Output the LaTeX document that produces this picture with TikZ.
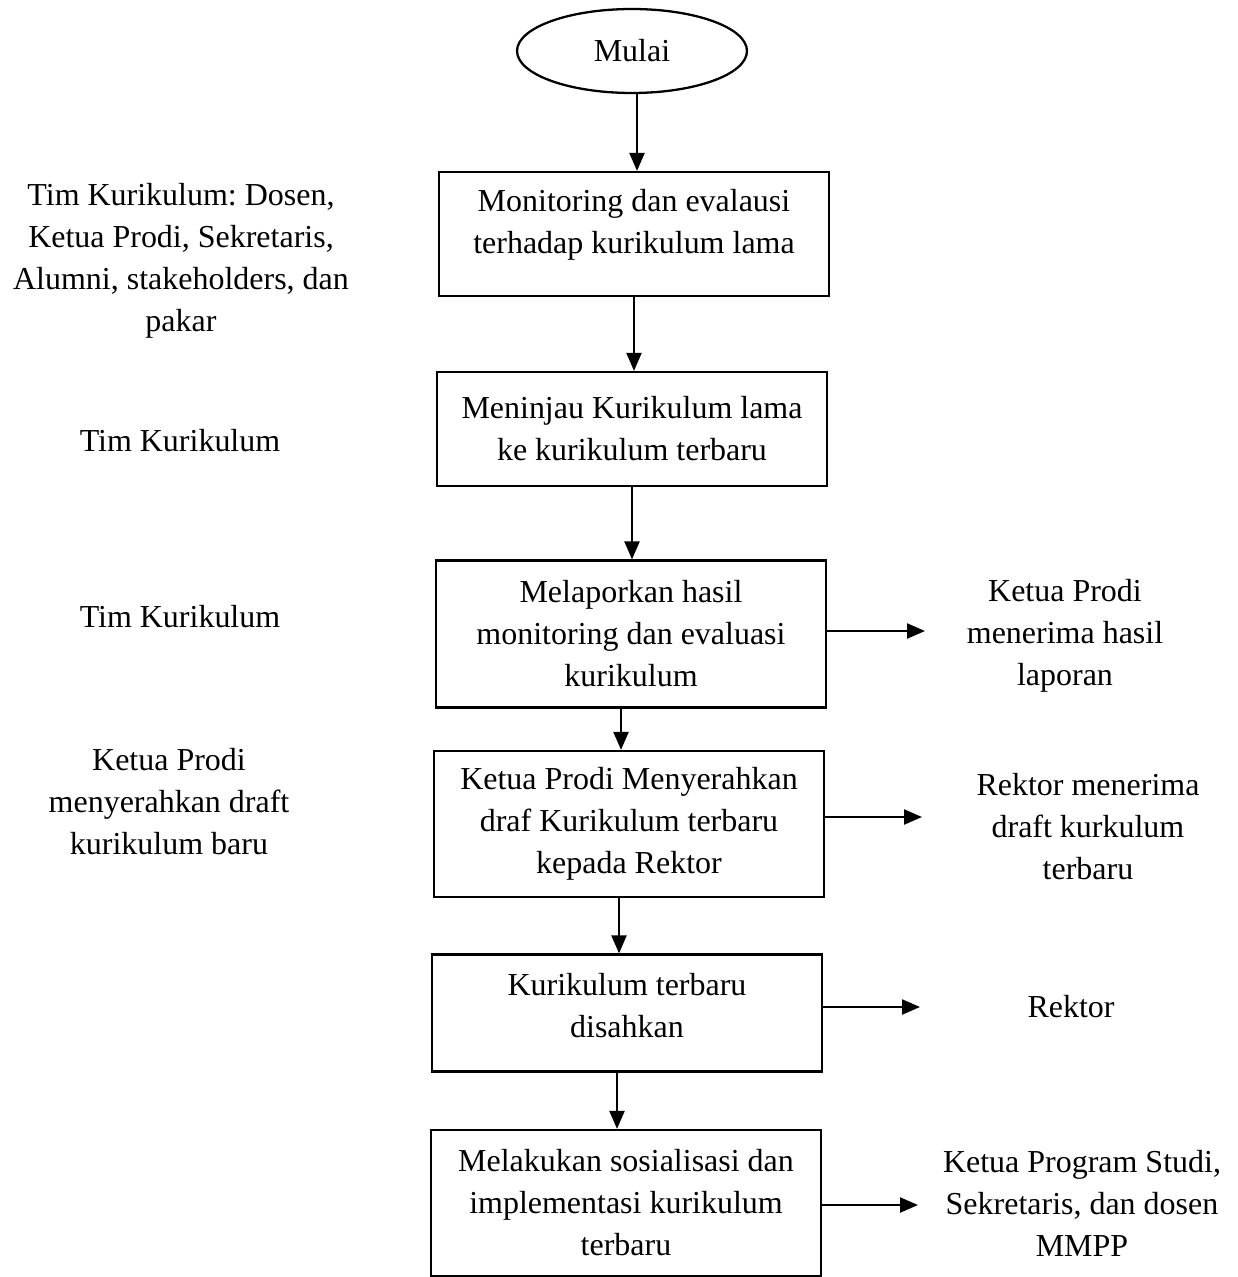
\documentclass[tikz,border=0pt]{standalone}
\usepackage{fontspec}
\setmainfont{Liberation Serif}
\usetikzlibrary{shapes.geometric,arrows.meta}
\frenchspacing
\tikzset{
  box/.style={draw, line width=1.3pt, minimum width=7.8cm, align=center, inner sep=2pt},
  txt/.style={align=center},
  arr/.style={line width=1.3pt, -{Triangle[length=0.36cm,width=0.3cm]}},
}
\begin{document}
\begin{tikzpicture}[x=0.02cm, y=-0.02cm, font=\fontsize{18.2}{23.9}\selectfont]
\useasboundingbox (0,0) rectangle (1237,1277) ;
\node [draw, ellipse, line width=1.3pt, minimum width=4.6cm, minimum height=1.68cm] (mulai) at (632,51) {Mulai} ;
\node [box, minimum height=2.48cm, text depth=0.5cm] (b1) at (634,234) {Monitoring dan evalausi\\terhadap kurikulum lama} ;
\node [box, minimum height=2.28cm] (b2) at (632,429) {Meninjau Kurikulum lama\\ke kurikulum terbaru} ;
\node [box, minimum height=2.94cm] (b3) at (631,634) {Melaporkan hasil\\monitoring dan evaluasi\\kurikulum} ;
\node [box, minimum height=2.92cm] (b4) at (629,824) {Ketua Prodi Menyerahkan\\draf Kurikulum terbaru\\kepada Rektor} ;
\node [box, minimum height=2.34cm, text depth=0.3cm] (b5) at (627,1013) {Kurikulum terbaru\\disahkan} ;
\node [box, minimum height=2.92cm] (b6) at (626,1203) {Melakukan sosialisasi dan\\implementasi kurikulum\\terbaru} ;
\node [txt] (tim1) at (181,261) {Tim Kurikulum: Dosen,\\Ketua Prodi, Sekretaris,\\Alumni, stakeholders, dan\\pakar} ;
\node [txt] (tim2) at (180,441) {Tim Kurikulum} ;
\node [txt] (tim3) at (180,617) {Tim Kurikulum} ;
\node [txt] (kp) at (169,802) {Ketua Prodi\\menyerahkan draft\\kurikulum baru} ;
\node [txt] (hasil) at (1065,636) {Ketua Prodi\\menerima hasil\\laporan} ;
\node [txt] (draft) at (1088,827) {Rektor menerima\\draft kurkulum\\terbaru} ;
\node [txt] (rektor) at (1071,1007) {Rektor} ;
\node [txt] (sos) at (1082,1203) {Ketua Program Studi,\\Sekretaris, dan dosen\\MMPP} ;
\coordinate (t3) at (925,631) ;
\coordinate (t4) at (922,817) ;
\coordinate (t5) at (920,1007) ;
\coordinate (t6) at (918,1205) ;
\draw [arr] ([xshift=0.1cm]mulai.south) to ([xshift=0.1cm]mulai.south |- b1.north) ;
\draw [arr] (b1.south) to (b1.south |- b2.north) ;
\draw [arr] (b2.south) to (b2.south |- b3.north) ;
\draw [arr] ([xshift=-0.2cm]b3.south) to ([xshift=-0.2cm]b3.south |- b4.north) ;
\draw [arr] ([xshift=-0.2cm]b4.south) to ([xshift=-0.2cm]b4.south |- b5.north) ;
\draw [arr] ([xshift=-0.2cm]b5.south) to ([xshift=-0.2cm]b5.south |- b6.north) ;
\draw [arr] (b3.east |- t3) to (t3) ;
\draw [arr] (b4.east |- t4) to (t4) ;
\draw [arr] (b5.east |- t5) to (t5) ;
\draw [arr] (b6.east |- t6) to (t6) ;
\end{tikzpicture}
\end{document}
